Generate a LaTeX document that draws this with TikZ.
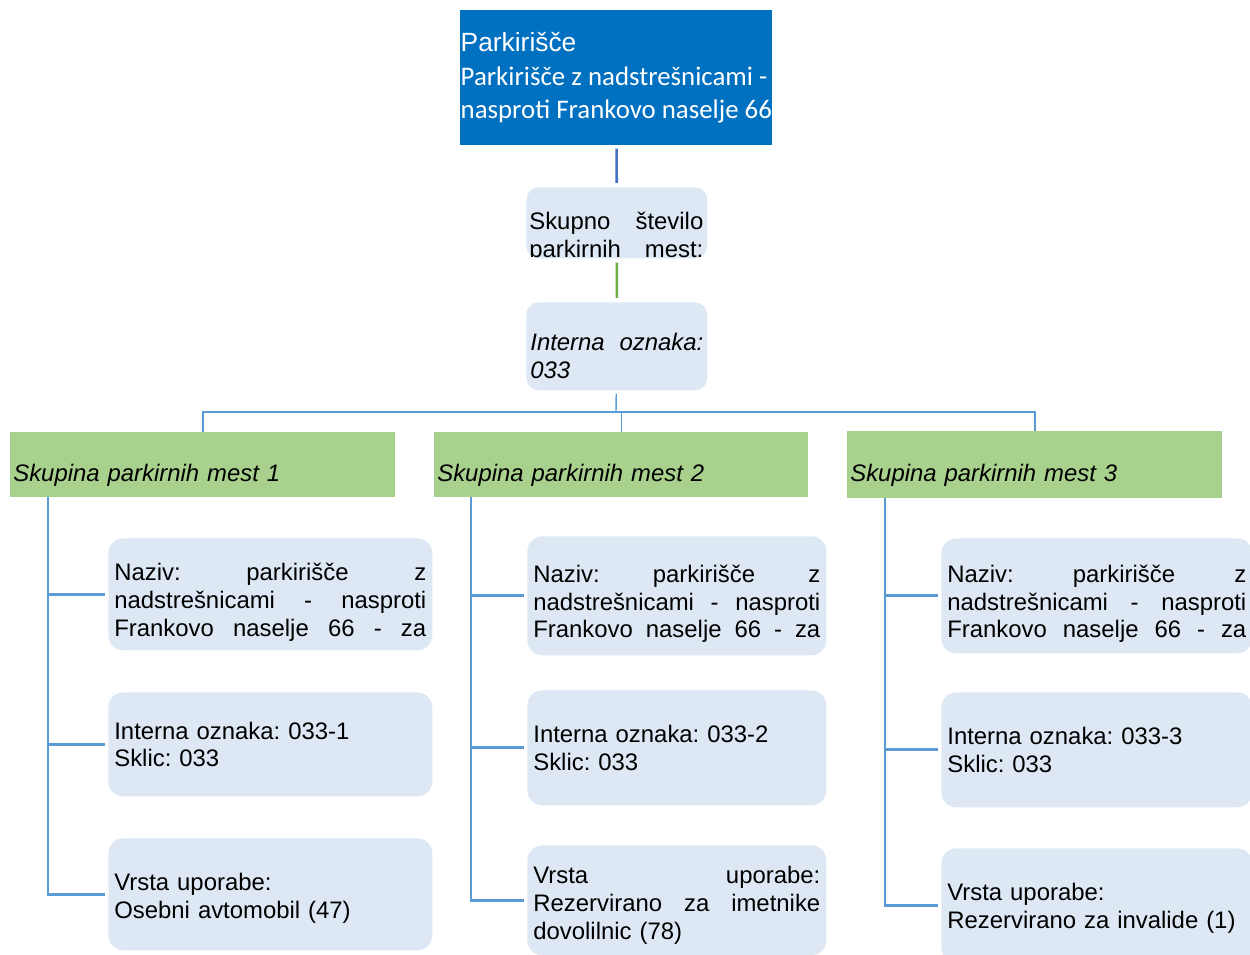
\documentclass[tikz,border=0pt]{standalone}
\usepackage{fontspec}
\setmainfont{Liberation Sans}
\newfontfamily\calibri{Carlito}
\frenchspacing
\definecolor{parkblue}{HTML}{0070C0}
\definecolor{infofill}{HTML}{DDE8F4}
\definecolor{groupgreen}{HTML}{A9D18E}
\definecolor{linkblue}{HTML}{5B9BD5}
\definecolor{topline}{HTML}{4472C4}
\definecolor{midgreen}{HTML}{70AD47}
\newcommand{\boxfont}{\fontsize{13.6}{15.8}\selectfont}
\begin{document}
\begin{tikzpicture}[x=0.02cm, y=-0.02cm,
  headbox/.style={rectangle, fill=parkblue, text=white, align=left, inner sep=0pt, anchor=north west, font=\fontsize{15}{18.9}\selectfont},
  infobox/.style={rectangle, rounded corners=0.3cm, fill=infofill, align=left, inner xsep=0.12cm, inner ysep=0pt, anchor=north west, font=\boxfont},
  groupbox/.style={rectangle, fill=groupgreen, align=left, inner xsep=0.06cm, inner ysep=0pt, anchor=north west, text height=0.76cm, text depth=0.1cm, font=\boxfont\itshape},
  tree/.style={-, draw=linkblue, line width=0.8pt},
  branch/.style={-, draw=linkblue, line width=1.6pt, shorten >=0.06cm}]
\useasboundingbox (0,0) rectangle (1250,955);
\clip (0,0) rectangle (1250,955);
\node[headbox, minimum width=6.24cm, minimum height=2.7cm] (park) at (460,10) {{Parkirišče}\\ {\calibri\fontsize{15.28}{18.9}\selectfont Parkirišče z nadstrešnicami -}\\ {\calibri\fontsize{15.28}{18.9}\selectfont nasproti Frankovo naselje 66}};
\node[infobox, minimum width=3.62cm, minimum height=1.42cm, rounded corners=0.25cm] (skupno) at (526,187) {};
\begin{scope}
\clip[rounded corners=0.25cm] (skupno.north west) rectangle (skupno.south east);
\node[anchor=base west, text width=3.48cm, align=left, inner sep=0pt, font=\boxfont] (skupnotext) at (529,230) {Skupno\hfill število\\ parkirnih\hfill mest:};
\end{scope}
\node[infobox, inner xsep=0.08cm, text width=3.46cm, text height=0.74cm, minimum height=1.76cm, rounded corners=0.25cm, font=\boxfont\itshape] (interna) at (526,302) {Interna\hfill oznaka:\\ 033};
\node[groupbox, text width=7.58cm, minimum height=1.3cm] (g1) at (10,432) {Skupina parkirnih mest 1};
\node[groupbox, text width=7.36cm, minimum height=1.3cm] (g2) at (434,432) {Skupina parkirnih mest 2};
\node[groupbox, text width=7.38cm, minimum height=1.34cm] (g3) at (847,431) {Skupina parkirnih mest 3};
\node[infobox, text width=6.24cm, text height=0.67cm, minimum height=2.24cm] (a1) at (108,538) {Naziv:\hfill parkirišče\hfill z\\ nadstrešnicami\hfill -\hfill nasproti\\ Frankovo\hfill naselje\hfill 66\hfill -\hfill za};
\node[infobox, text width=6.24cm, minimum height=2.08cm] (a2) at (108,692) {Interna oznaka: 033-1\\ Sklic: 033};
\node[infobox, text width=6.24cm, text height=0.5cm, minimum height=2.24cm] (a3) at (108,838) {Vrsta uporabe:\\ Osebni avtomobil (47)};
\node[infobox, text width=5.74cm, text height=0.67cm, minimum height=2.38cm] (b1) at (527,536) {Naziv:\hfill parkirišče\hfill z\\ nadstrešnicami\hfill -\hfill nasproti\\ Frankovo\hfill naselje\hfill 66\hfill -\hfill za};
\node[infobox, text width=5.74cm, minimum height=2.3cm] (b2) at (527,690) {Interna oznaka: 033-2\\ Sklic: 033};
\node[infobox, text width=5.74cm, text height=0.55cm, minimum height=2.2cm] (b3) at (527,845) {Vrsta\hfill uporabe:\\ Rezervirano\hfill za\hfill imetnike\\ dovolilnic (78)};
\node[infobox, text width=5.98cm, text height=0.67cm, minimum height=2.3cm] (c1) at (941,538) {Naziv:\hfill parkirišče\hfill z\\ nadstrešnicami\hfill -\hfill nasproti\\ Frankovo\hfill naselje\hfill 66\hfill -\hfill za};
\node[infobox, text width=5.98cm, minimum height=2.3cm] (c2) at (941,692) {Interna oznaka: 033-3\\ Sklic: 033};
\node[infobox, text width=5.98cm, text height=0.46cm, minimum height=2.28cm] (c3) at (941,848) {Vrsta uporabe:\\ Rezervirano za invalide (1)};
\coordinate (fork) at (616,412);
\coordinate (t1) at (48,497);
\coordinate (t2) at (471,497);
\coordinate (t3) at (885,498);
\path [-, line width=1.5pt, draw=topline, shorten <=0.06cm, shorten >=0.08cm] (park) edge (skupno);
\path [-, line width=1.5pt, draw=midgreen, shorten <=0.08cm, shorten >=0.08cm] (skupno) edge (interna);
\path [tree, shorten <=0.06cm] (interna) edge (fork);
\draw [tree] (fork) -| (g1);
\draw [tree] (fork) -| (g2);
\draw [tree] (fork) -| (g3);
\draw [branch] (t1) |- (a1);
\draw [branch] (t1) |- (a2);
\draw [branch] (t1) |- (a3);
\draw [branch] (t2) |- (b1);
\draw [branch] (t2) |- (b2);
\draw [branch] (t2) |- (b3);
\draw [branch] (t3) |- (c1);
\draw [branch] (t3) |- (c2);
\draw [branch] (t3) |- (c3);
\end{tikzpicture}
\end{document}
